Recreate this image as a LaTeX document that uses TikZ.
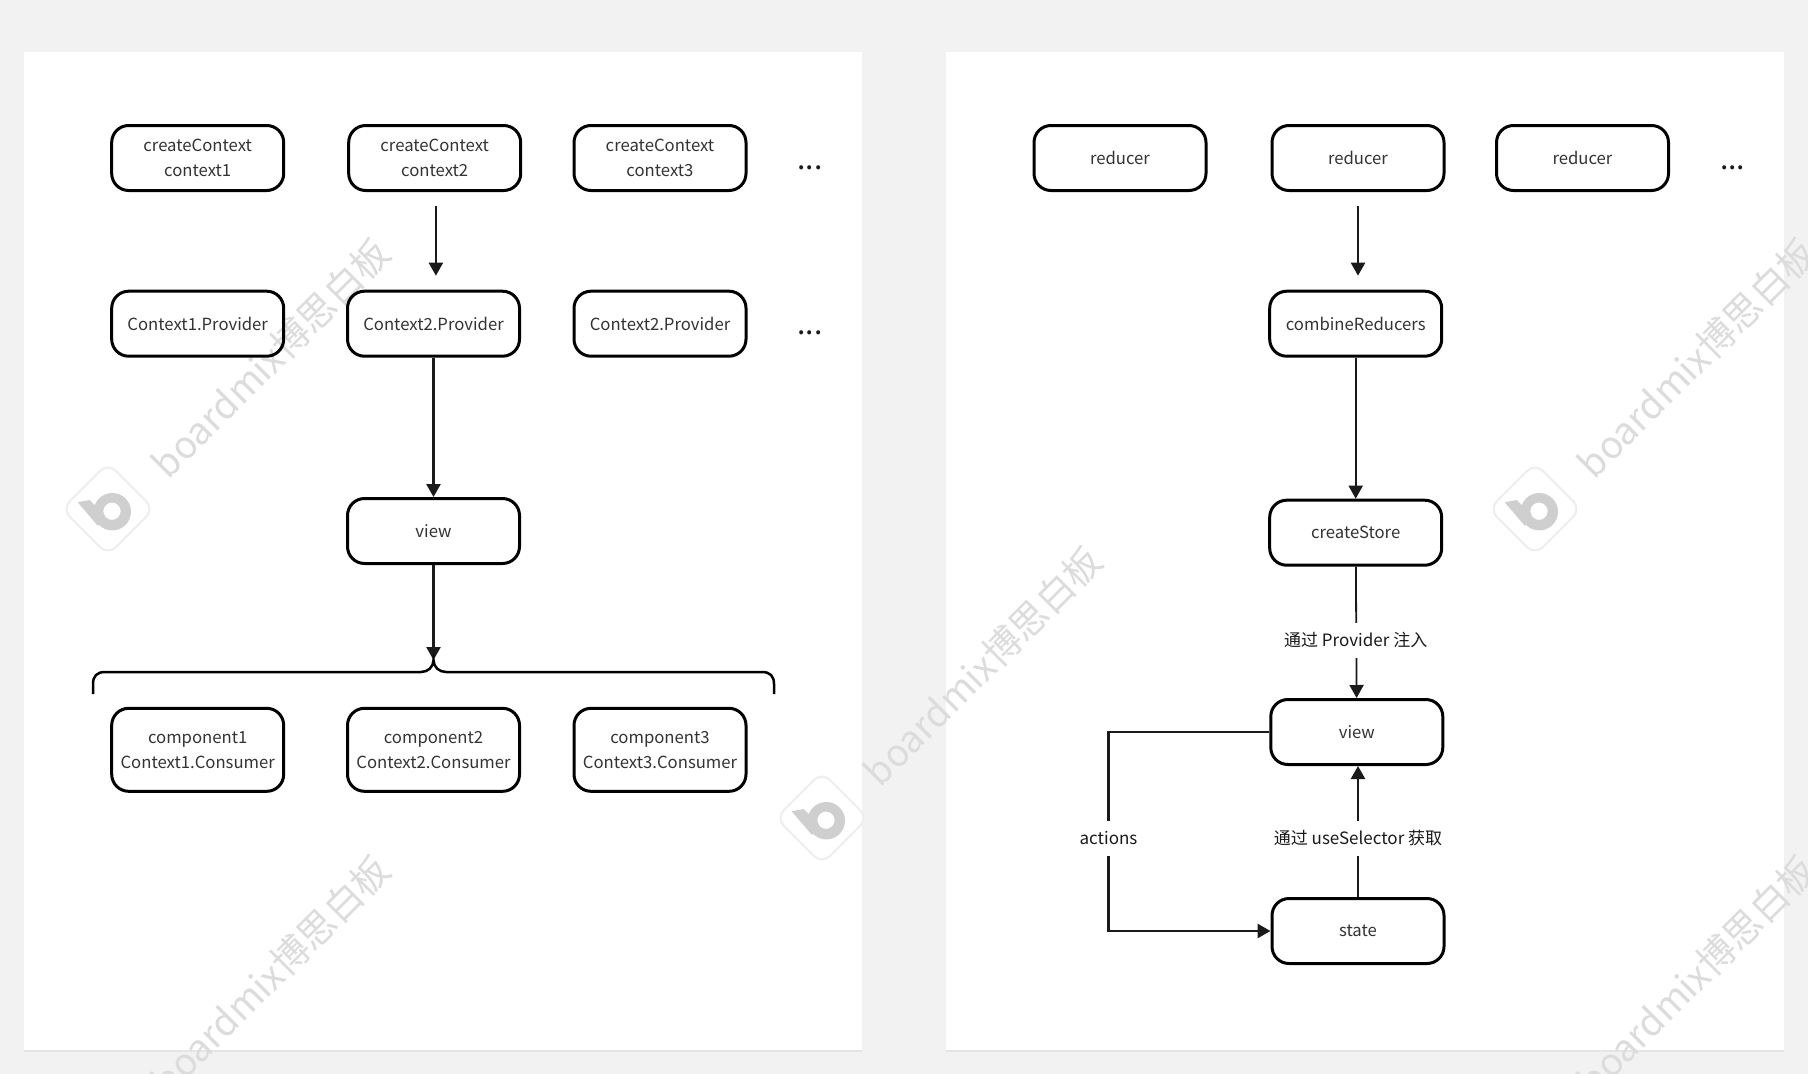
\documentclass[tikz,border=0pt]{standalone}
\usepackage{fontspec}
\setmainfont{Noto Sans CJK SC}
\usetikzlibrary{arrows.meta}
\definecolor{pagebg}{HTML}{F2F2F2}
\definecolor{wmgray}{HTML}{DCDCDC}
\definecolor{wmlogo}{HTML}{CFCFCF}
\definecolor{wmedge}{HTML}{EEEEEE}
\definecolor{inktext}{HTML}{333333}
\definecolor{inkline}{HTML}{1A1A1A}
\tikzset{
    boxnode/.style = {draw = black, line width = 3pt, rounded corners = 17pt, minimum width = 172pt,
        minimum height = 65pt, inner sep = 2pt, align = center, text = inktext,
        font = \fontsize{16.7}{25}\selectfont},
    tallbox/.style = {boxnode, minimum height = 83pt},
    linkarrow/.style = {draw = inkline, line width = 2.2pt, -{Triangle[length = 13pt, width = 14pt]}},
    linklabel/.style = {fill = white, inner xsep = 1pt, inner ysep = 0pt, minimum height = 35pt,
        text = inkline, font = \fontsize{17}{20}\selectfont},
    moredots/.style = {anchor = base, text = inkline, inner sep = 0pt, font = \fontsize{30}{30}\selectfont},
    watermark/.style = {rotate = 45, text = wmgray, inner sep = 0pt, font = \fontsize{37.5}{38}\selectfont}
}
\begin{document}
\begin{tikzpicture}[x = 1pt, y = -1pt]
    \useasboundingbox (0,0) rectangle (1808,1074);
    \fill[pagebg] (0,0) rectangle (1808,1074);
    \fill[black!10] (23.5,53) rectangle (862,1051.5);
    \fill[black!10] (945.5,53) rectangle (1784,1051.5);
    \fill[white] (23.5,52) rectangle (862,1050);
    \fill[white] (945.5,52) rectangle (1784,1050);

    \begin{scope}
        \clip (0,0) rectangle (1808,1074);
        \foreach \wx/\wy [count = \wi] in {271/358, 271/975, 983/666, 1697/358, 1697/975} {
            \node[watermark] (mark\wi) at (\wx,\wy) {boardmix博思白板};
        }
        \foreach \wx/\wy in {108/509, 822/818, 1535/509} {
            \begin{scope}[shift = {(\wx,\wy)}]
                \draw[wmedge, line width = 2pt, fill = white, rounded corners = 11pt, rotate = 45]
                    (-32.5,-32.5) rectangle (32.5,32.5);
                \fill[wmlogo, even odd rule] (4.3,2.7) circle (18.7) (4,2.2) circle (8.7);
                \fill[wmlogo] (-30.3,-6.7) -- (-18.3,-9) -- (-3.3,6) -- (-10,17) -- cycle;
            \end{scope}
        }
    \end{scope}

    \node[boxnode] (cc1) at (197.7,158) {createContext\\context1};
    \node[boxnode] (cc2) at (434.7,158) {createContext\\context2};
    \node[boxnode] (cc3) at (660,158) {createContext\\context3};
    \node[moredots] (ccdots) at (810,169) {...};
    \node[boxnode] (prov1) at (197.7,323.7) {Context1.Provider};
    \node[boxnode] (prov2) at (433.5,323.7) {Context2.Provider};
    \node[boxnode] (prov3) at (660,323.7) {Context2.Provider};
    \node[moredots] (provdots) at (810,334) {...};
    \node[boxnode] (lview) at (433.5,531) {view};
    \node[tallbox] (comp1) at (197.7,749.8) {component1\\Context1.Consumer};
    \node[tallbox] (comp2) at (433.5,749.8) {component2\\Context2.Consumer};
    \node[tallbox] (comp3) at (660,749.8) {component3\\Context3.Consumer};
    \coordinate (bracetip) at (433.5,660);

    \draw[linkarrow, shorten <= 14pt, shorten >= 14pt] ([xshift = 1.2pt]cc2.south) -- ([xshift = 1.2pt]cc2.south |- prov2.north);
    \draw[linkarrow, line width = 2.6pt] (prov2) -- (lview);
    \draw[linkarrow, line width = 2.6pt] (lview) -- (bracetip);
    \draw[black, line width = 2.5pt] (93,694) -- (93,684) .. controls (93,676) and (97,672) .. (105,672)
        -- (421,672) .. controls (428,672) and (433.5,667) .. (bracetip)
        .. controls (433.5,667) and (439,672) .. (446,672)
        -- (762,672) .. controls (770,672) and (774,676) .. (774,684) -- (774,694);

    \node[boxnode] (rd1) at (1120,158) {reducer};
    \node[boxnode] (rd2) at (1358,158) {reducer};
    \node[boxnode] (rd3) at (1582.5,158) {reducer};
    \node[moredots] (rddots) at (1732.7,169) {...};
    \node[boxnode] (combine) at (1355.7,323.7) {combineReducers};
    \node[boxnode] (store) at (1355.7,532.7) {createStore};
    \node[boxnode] (rview) at (1356.8,732) {view};
    \node[boxnode] (state) at (1358,931) {state};
    \coordinate (actop) at (1108.5,732);
    \coordinate (acbottom) at (1108.5,931);

    \draw[linkarrow, line width = 2.4pt, shorten <= 14pt, shorten >= 14pt] (rd2.south) -- (rd2.south |- combine.north);
    \draw[linkarrow, line width = 1.8pt] (combine) -- (store);
    \draw[linkarrow, line width = 1.8pt] (store) -- (rview);
    \draw[linkarrow, line width = 2.4pt] (state.north) -- (state.north |- rview.south);
    \draw[linkarrow, line width = 2.8pt] (rview.west) -- (actop) -- (acbottom) -- (state.west);
    \node[linklabel] (injectlabel) at (1355.7,640) {通过 Provider 注入};
    \node[linklabel] (selectlabel) at (1358,838) {通过 useSelector 获取};
    \node[linklabel] (actionlabel) at (1108.5,838) {actions};
\end{tikzpicture}
\end{document}
